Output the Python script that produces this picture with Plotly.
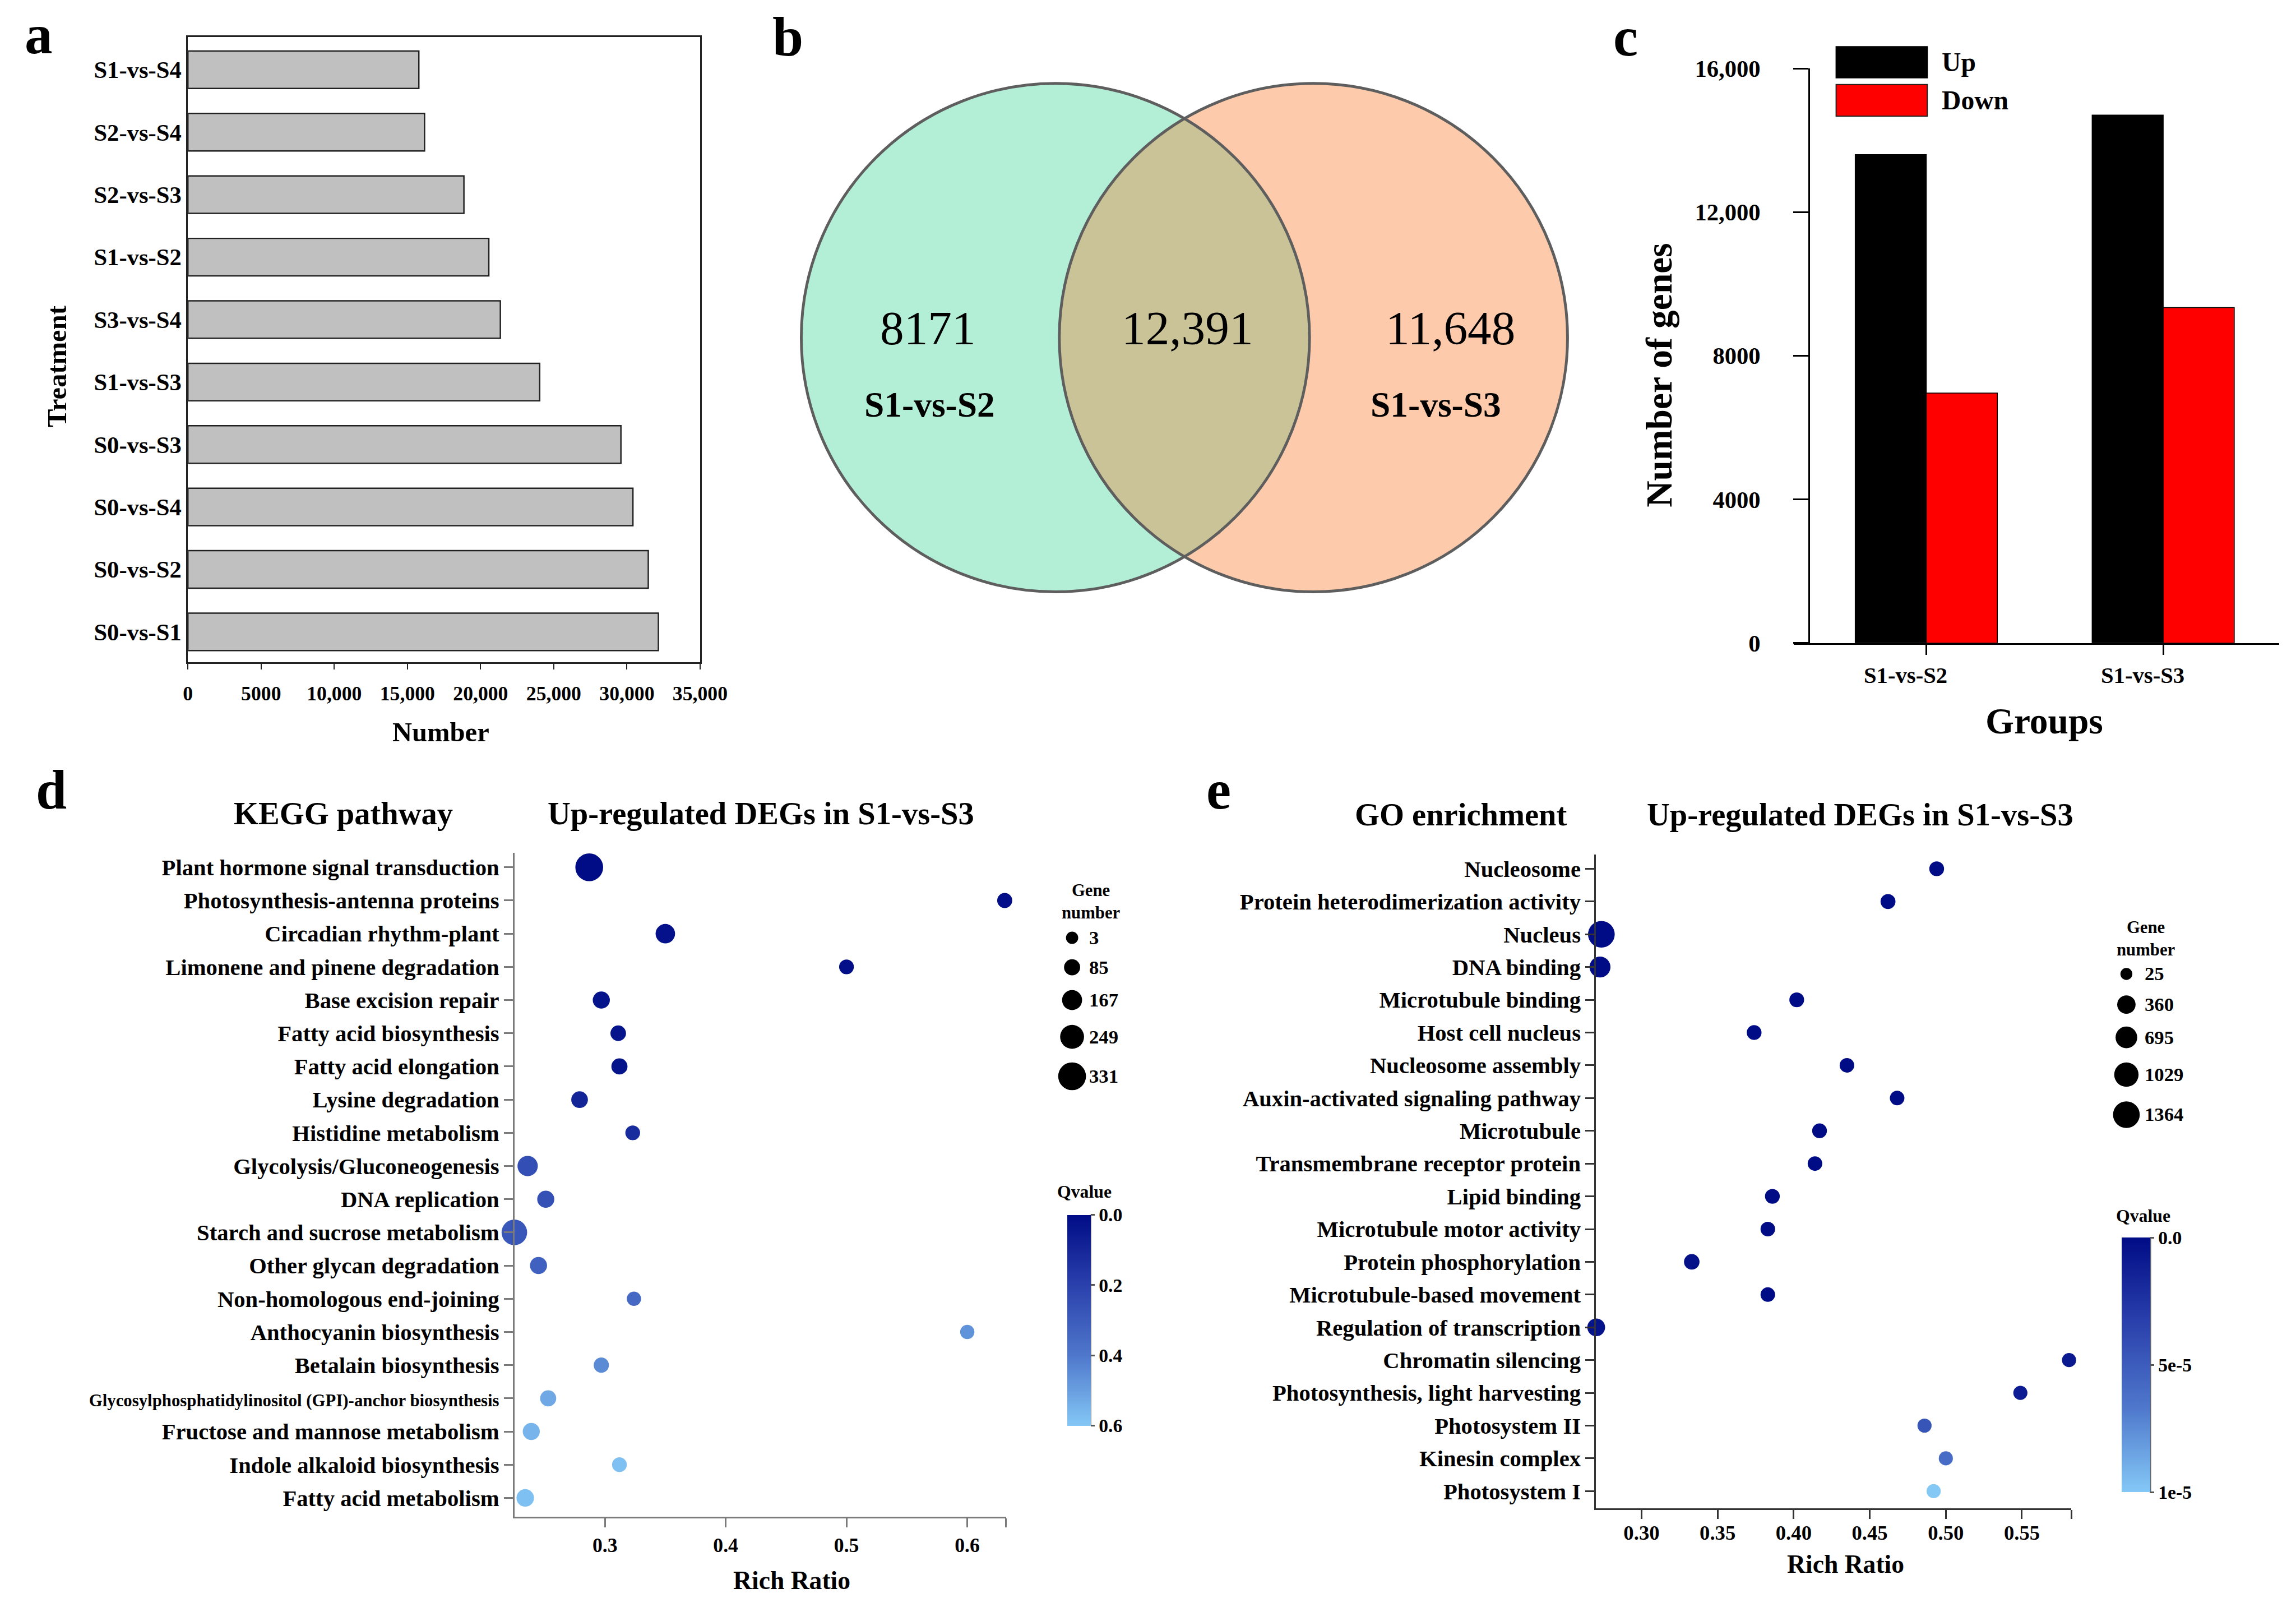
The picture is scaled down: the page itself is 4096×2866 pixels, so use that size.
import numpy as np
import plotly.graph_objects as go

S = 0.992
W, H = 4096, 2866
FONT = "Liberation Serif"


def fx(x):
    return x * S / W


def fy(y):
    return 1 - y * S / H


def f(v):
    return v * S


def fi(v):
    return int(round(v * S))


# ---------------- data ----------------
# panel a
treatments = ["S1-vs-S4", "S2-vs-S4", "S2-vs-S3", "S1-vs-S2", "S3-vs-S4",
              "S1-vs-S3", "S0-vs-S3", "S0-vs-S4", "S0-vs-S2", "S0-vs-S1"]
deg_numbers = [15780, 16170, 18860, 20562, 21350, 24039, 29590, 30410, 31460, 32150]
a_tickvals = [0, 5000, 10000, 15000, 20000, 25000, 30000, 35000]
a_ticktext = ["0", "5000", "10,000", "15,000", "20,000", "25,000", "30,000", "35,000"]

# panel b
venn_sets = ["S1-vs-S2", "S1-vs-S3"]
venn_only_left = "8171"
venn_shared = "12,391"
venn_only_right = "11,648"

# panel c
groups = ["S1-vs-S2", "S1-vs-S3"]
up_counts = [13600, 14700]
down_counts = [6960, 9340]
c_tickvals = [0, 4000, 8000, 12000, 16000]
c_ticktext = ["0", "4000", "8000", "12,000", "16,000"]

# panel d (KEGG)
kegg_terms = ["Plant hormone signal transduction", "Photosynthesis-antenna proteins",
              "Circadian rhythm-plant", "Limonene and pinene degradation",
              "Base excision repair", "Fatty acid biosynthesis", "Fatty acid elongation",
              "Lysine degradation", "Histidine metabolism", "Glycolysis/Gluconeogenesis",
              "DNA replication", "Starch and sucrose metabolism", "Other glycan degradation",
              "Non-homologous end-joining", "Anthocyanin biosynthesis", "Betalain biosynthesis",
              "Glycosylphosphatidylinositol (GPI)-anchor biosynthesis",
              "Fructose and mannose metabolism", "Indole alkaloid biosynthesis",
              "Fatty acid metabolism"]
kegg_rich = [0.287, 0.631, 0.350, 0.500, 0.297, 0.311, 0.312, 0.279, 0.323, 0.236,
             0.251, 0.225, 0.245, 0.324, 0.600, 0.297, 0.253, 0.239, 0.312, 0.234]
kegg_genes = [331, 62, 155, 56, 105, 73, 85, 96, 56, 173,
              105, 284, 105, 46, 46, 66, 85, 105, 56, 114]
kegg_q = [0.0, 0.01, 0.02, 0.01, 0.03, 0.03, 0.03, 0.09, 0.12, 0.25,
          0.26, 0.28, 0.32, 0.35, 0.47, 0.45, 0.52, 0.55, 0.58, 0.58]
kegg_size_keys = [3, 85, 167, 249, 331]
kegg_q_ticks = [0.0, 0.2, 0.4, 0.6]

# panel e (GO)
go_terms = ["Nucleosome", "Protein heterodimerization activity", "Nucleus", "DNA binding",
            "Microtubule binding", "Host cell nucleus", "Nucleosome assembly",
            "Auxin-activated signaling pathway", "Microtubule",
            "Transmembrane receptor protein", "Lipid binding", "Microtubule motor activity",
            "Protein phosphorylation", "Microtubule-based movement",
            "Regulation of transcription", "Chromatin silencing",
            "Photosynthesis, light harvesting", "Photosystem II", "Kinesin complex",
            "Photosystem I"]
go_rich = [0.494, 0.462, 0.2736, 0.2727, 0.402, 0.374, 0.435, 0.468, 0.417, 0.414,
           0.386, 0.383, 0.333, 0.383, 0.2702, 0.581, 0.549, 0.486, 0.500, 0.492]
go_genes = [110, 120, 1364, 610, 110, 110, 100, 100, 110, 100,
            110, 100, 150, 100, 310, 80, 80, 80, 80, 80]
go_q = [0.0, 0.0, 0.0, 0.0, 0.0, 0.0, 0.0, 0.0, 0.0, 0.0,
        0.0, 0.0, 0.3e-5, 0.0, 0.5e-5, 0.8e-5, 1.0e-5, 4.5e-5, 6.0e-5, 1.0e-4]
go_size_keys = [25, 360, 695, 1029, 1364]
go_q_tickvals = [0.0, 5e-5, 1e-4]
go_q_ticktext = ["0.0", "5e-5", "1e-5"]

# ---------------- styling helpers ----------------
BLUE_SCALE = [[0.0, "#84c8f6"], [0.33, "#4f78cc"], [0.67, "#2a40ac"], [1.0, "#000c86"]]
AXGRAY_D = "#7a7a7a"
AXGRAY_E = "#333333"


def kegg_size(n):
    n = np.asarray(n, dtype=float)
    return f(22 + 28 * (n - 3) / 328)


def go_size(n):
    n = np.asarray(n, dtype=float)
    return f(21.5 + 26.5 * ((n - 25) / 1339) ** 0.6)


def tfont(size, color="black"):
    return dict(family=FONT, size=f(size), color=color, weight="bold")


def ann(text, x, y, size, bold=True, xanchor="center", yanchor="middle", angle=0):
    return dict(text=f"<b>{text}</b>" if bold else text, x=fx(x), y=fy(y),
                xref="paper", yref="paper", showarrow=False,
                font=dict(family=FONT, size=f(size), color="black"),
                xanchor=xanchor, yanchor=yanchor, textangle=angle)


fig = go.Figure()

# ---------------- panel a ----------------
fig.add_trace(go.Bar(x=deg_numbers, y=treatments, orientation="h", width=0.6,
                     marker=dict(color="#c0c0c0", line=dict(color="#222222", width=f(2.5))),
                     xaxis="x", yaxis="y", showlegend=False))

# ---------------- panel c ----------------
fig.add_trace(go.Bar(x=groups, y=up_counts, name="Up",
                     marker=dict(color="#000000", line=dict(color="#000000", width=f(1.5))),
                     xaxis="x2", yaxis="y2", showlegend=False))
fig.add_trace(go.Bar(x=groups, y=down_counts, name="Down",
                     marker=dict(color="#ff0000", line=dict(color="#000000", width=f(1.5))),
                     xaxis="x2", yaxis="y2", showlegend=False))

# ---------------- panel d ----------------
fig.add_trace(go.Scatter(
    x=kegg_rich, y=kegg_terms, mode="markers", cliponaxis=False, showlegend=False,
    marker=dict(size=kegg_size(kegg_genes), sizemode="diameter",
                color=[-q for q in kegg_q], colorscale=BLUE_SCALE, cmin=-0.6, cmax=0,
                line=dict(width=0), opacity=1,
                colorbar=dict(x=fx(1919), xanchor="left", y=fy((2184 + 2563) / 2),
                              yanchor="middle", len=f(379), lenmode="pixels",
                              thickness=f(42), thicknessmode="pixels", xpad=0, ypad=0,
                              outlinewidth=0, ticks="outside", ticklen=f(8),
                              tickwidth=f(3), tickcolor="#555555",
                              tickvals=[-v for v in kegg_q_ticks],
                              ticktext=[f"{v:.1f}" for v in kegg_q_ticks],
                              tickfont=tfont(34))),
    xaxis="x3", yaxis="y3"))

# ---------------- panel e ----------------
fig.add_trace(go.Scatter(
    x=go_rich, y=go_terms, mode="markers", cliponaxis=False, showlegend=False,
    marker=dict(size=go_size(go_genes), sizemode="diameter",
                color=[-q for q in go_q], colorscale=BLUE_SCALE, cmin=-1e-4, cmax=0,
                line=dict(width=0), opacity=1,
                colorbar=dict(x=fx(3816), xanchor="left", y=fy((2225 + 2683) / 2),
                              yanchor="middle", len=f(458), lenmode="pixels",
                              thickness=f(51), thicknessmode="pixels", xpad=0, ypad=0,
                              outlinewidth=0, ticks="outside", ticklen=f(8),
                              tickwidth=f(3), tickcolor="#555555",
                              tickvals=[-v for v in go_q_tickvals],
                              ticktext=go_q_ticktext,
                              tickfont=tfont(34))),
    xaxis="x4", yaxis="y4"))

# ---------------- size keys (overlay axis in reference pixel units) ----------------
kegg_key_y = [1686, 1739, 1798, 1864, 1935]
go_key_y = [1751, 1806, 1865, 1932, 2004]
fig.add_trace(go.Scatter(x=[1928] * len(kegg_size_keys), y=kegg_key_y, mode="markers",
                         marker=dict(size=kegg_size(kegg_size_keys), sizemode="diameter",
                                     color="black", opacity=1, line=dict(width=0)),
                         xaxis="x9", yaxis="y9", showlegend=False, cliponaxis=False))
fig.add_trace(go.Scatter(x=[3824] * len(go_size_keys), y=go_key_y, mode="markers",
                         marker=dict(size=go_size(go_size_keys), sizemode="diameter",
                                     color="black", opacity=1, line=dict(width=0)),
                         xaxis="x9", yaxis="y9", showlegend=False, cliponaxis=False))

# ---------------- axes ----------------
common = dict(showgrid=False, zeroline=False)
d_range = [0.225, 0.632]
e_range = [0.2700, 0.5825]
layout = dict(
    width=W, height=H, margin=dict(l=0, r=0, t=0, b=0, autoexpand=False),
    paper_bgcolor="white", plot_bgcolor="rgba(0,0,0,0)", barmode="group",
    bargap=0.4, bargroupgap=0.0,
    xaxis=dict(domain=[fx(338), fx(1259)], range=[0, 35000], anchor="y",
               tickvals=a_tickvals, ticktext=a_ticktext, tickfont=tfont(36),
               showline=True, linecolor="#222222", linewidth=f(3), mirror=True,
               ticks="outside", ticklen=f(10), tickwidth=f(2.5), tickcolor="#222222",
               ticklabelstandoff=fi(12), **common),
    yaxis=dict(domain=[fy(1191), fy(67)], type="category", categoryarray=treatments,
               range=[9.49, -0.52], anchor="x", tickfont=tfont(43),
               showline=True, linecolor="#222222", linewidth=f(3), mirror=True,
               ticks="", ticklabelstandoff=0, **common),
    xaxis2=dict(domain=[fx(3226), fx(4099)], range=[-0.559, 1.49], type="category",
                anchor="y2", showticklabels=False, showline=True, linecolor="black",
                linewidth=f(3), ticks="outside", ticklen=f(18), tickwidth=f(3),
                tickcolor="black", **common),
    yaxis2=dict(domain=[fy(1156), fy(123)], range=[0, 16000], anchor="free",
                position=fx(3253), tickvals=c_tickvals, ticktext=c_ticktext,
                tickfont=tfont(43), showline=True, linecolor="black", linewidth=f(3),
                ticks="outside", ticklen=f(27), tickwidth=f(3), tickcolor="black",
                ticklabelstandoff=fi(50), **common),
    xaxis3=dict(domain=[fx(925), fx(1809)], range=d_range, anchor="y3",
                tickvals=[0.3, 0.4, 0.5, 0.6, d_range[1]],
                ticktext=["0.3", "0.4", "0.5", "0.6", ""],
                tickfont=tfont(36), showline=True, linecolor=AXGRAY_D, linewidth=f(3),
                ticks="outside", ticklen=f(16), tickwidth=f(3), tickcolor=AXGRAY_D,
                ticklabelstandoff=fi(1), **common),
    yaxis3=dict(domain=[fy(2727), fy(1533)], type="category", categoryarray=kegg_terms,
                range=[19.57, -0.44], anchor="x3", tickvals=kegg_terms,
                ticktext=[(f'<span style="font-size:{f(31):.1f}px">{t}</span>'
                           if t.startswith("Glycosyl") else t) for t in kegg_terms],
                tickfont=tfont(41), showline=True, linecolor=AXGRAY_D, linewidth=f(3),
                ticks="outside", ticklen=f(16), tickwidth=f(3), tickcolor=AXGRAY_D,
                ticklabelstandoff=0, **common),
    xaxis4=dict(domain=[fx(2870), fx(3725)], range=e_range, anchor="y4",
                tickvals=[0.30, 0.35, 0.40, 0.45, 0.50, 0.55, e_range[1]],
                ticktext=["0.30", "0.35", "0.40", "0.45", "0.50", "0.55", ""],
                tickfont=tfont(37), showline=True, linecolor=AXGRAY_E, linewidth=f(3),
                ticks="outside", ticklen=f(16), tickwidth=f(3), tickcolor=AXGRAY_E,
                ticklabelstandoff=-fi(7), **common),
    yaxis4=dict(domain=[fy(2712), fy(1536)], type="category", categoryarray=go_terms,
                range=[19.53, -0.44], anchor="x4", tickfont=tfont(41),
                showline=True, linecolor=AXGRAY_E, linewidth=f(3),
                ticks="outside", ticklen=f(16), tickwidth=f(3), tickcolor=AXGRAY_E,
                ticklabelstandoff=0, **common),
    xaxis9=dict(domain=[0, 1], range=[0, W / S], visible=False, anchor="y9", fixedrange=True),
    yaxis9=dict(domain=[0, 1], range=[H / S, 0], visible=False, anchor="x9", fixedrange=True),
)
fig.update_layout(**layout)

# ---------------- shapes ----------------
shapes = []
# Venn diagram
r = 457
cy = 607
cxl, cxr = 1898, 2362


def circle_shape(cx, fill, line_w=0, line_col="rgba(0,0,0,0)"):
    return dict(type="circle", xref="paper", yref="paper",
                x0=fx(cx - r), x1=fx(cx + r), y0=fy(cy + r), y1=fy(cy - r),
                fillcolor=fill, line=dict(width=line_w, color=line_col), layer="above")


shapes.append(circle_shape(cxl, "#b3eed7"))
shapes.append(circle_shape(cxr, "#fdcbab"))
a_half = (cxr - cxl) / 2
alpha = np.arccos(a_half / r)
th1 = np.linspace(-alpha, alpha, 80)
th2 = np.linspace(np.pi - alpha, np.pi + alpha, 80)
pts = [(cxl + r * np.cos(t), cy + r * np.sin(t)) for t in th1]
pts += [(cxr + r * np.cos(t), cy - r * np.sin(t)) for t in th2]
path = "M " + " L ".join(f"{fx(px_):.6f},{fy(py_):.6f}" for px_, py_ in pts) + " Z"
shapes.append(dict(type="path", xref="paper", yref="paper", path=path,
                   fillcolor="#cac397", line=dict(width=0), layer="above"))
shapes.append(circle_shape(cxl, "rgba(0,0,0,0)", f(5), "#5e5e5e"))
shapes.append(circle_shape(cxr, "rgba(0,0,0,0)", f(5), "#5e5e5e"))

# panel c legend swatches
shapes.append(dict(type="rect", xref="paper", yref="paper", x0=fx(3302), x1=fx(3466),
                   y0=fy(140), y1=fy(84), fillcolor="black",
                   line=dict(color="black", width=f(2))))
shapes.append(dict(type="rect", xref="paper", yref="paper", x0=fx(3302), x1=fx(3466),
                   y0=fy(209), y1=fy(152), fillcolor="#ff0000",
                   line=dict(color="#222222", width=f(2))))
# colorbar axis lines
shapes.append(dict(type="line", xref="paper", yref="paper", x0=fx(1961), x1=fx(1961),
                   y0=fy(2563), y1=fy(2184), line=dict(color="#666666", width=f(3))))
shapes.append(dict(type="line", xref="paper", yref="paper", x0=fx(3867), x1=fx(3867),
                   y0=fy(2683), y1=fy(2225), line=dict(color="#666666", width=f(3))))
fig.update_layout(shapes=shapes)

# ---------------- annotations ----------------
anns = [
    # panel labels
    ann("a", 70, 62, 100), ann("b", 1417, 66, 100), ann("c", 2923, 66, 100),
    ann("d", 92, 1420, 100), ann("e", 2192, 1420, 100),
    # panel a titles
    ann("Treatment", 103, 659, 49, angle=-90), ann("Number", 793, 1317, 49),
    # panel b
    ann(venn_only_left, 1669, 590, 86, bold=False), ann(venn_shared, 2136, 590, 86, bold=False),
    ann(venn_only_right, 2608, 590, 86, bold=False),
    ann(venn_sets[0], 1672, 727, 64), ann(venn_sets[1], 2582, 727, 64),
    # panel c
    ann("Number of genes", 2983, 674, 66, angle=-90), ann("Groups", 3676, 1296, 66),
    ann("Up", 3490, 112, 48, xanchor="left"), ann("Down", 3490, 180, 48, xanchor="left"),
    # panel d
    ann("KEGG pathway", 617, 1463, 57), ann("Up-regulated DEGs in S1-vs-S3", 1368, 1463, 57),
    ann("Rich Ratio", 1424, 2841, 46),
    ann("Gene<br>number", 1907, 1621, 31, xanchor="left"),
    ann("Qvalue", 1899, 2143, 32, xanchor="left"),
    # panel e
    ann("GO enrichment", 2628, 1465, 57), ann("Up-regulated DEGs in S1-vs-S3", 3345, 1465, 57),
    ann("Rich Ratio", 3319, 2812, 46),
    ann("Gene<br>number", 3804, 1688, 31, xanchor="left"),
    ann("Qvalue", 3803, 2186, 32, xanchor="left"),
]
# panel c category labels (drawn slightly left of the ticks as in the original)
for g in groups:
    anns.append(dict(text=f"<b>{g}</b>", x=g, y=fy(1214), xref="x2", yref="paper",
                     xshift=-f(37), showarrow=False,
                     font=dict(family=FONT, size=f(41), color="black"),
                     xanchor="center", yanchor="middle"))
# size-key labels
for v, yy in zip(kegg_size_keys, kegg_key_y):
    anns.append(ann(str(v), 1957, yy, 35, xanchor="left"))
for v, yy in zip(go_size_keys, go_key_y):
    anns.append(ann(str(v), 3855, yy, 35, xanchor="left"))
fig.update_layout(annotations=anns)

fig.write_html("out.html", config={"displayModeBar": False},
               post_script="document.body.style.margin='0';document.body.style.overflow='hidden';")
